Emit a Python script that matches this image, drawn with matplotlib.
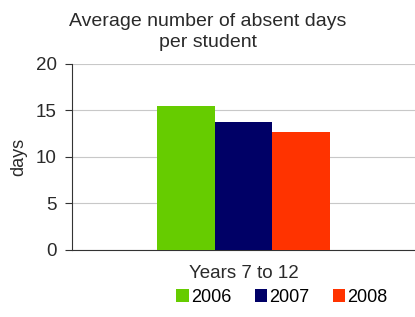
import numpy as np
import matplotlib.pyplot as plt

plt.rcParams['font.family'] = ['Liberation Sans', 'DejaVu Sans']

# data
category = 'Years 7 to 12'
years = ['2006', '2007', '2008']
absent_days = [15.5, 13.8, 12.7]
colors = ['#66cc00', '#000066', '#ff3300']

fig = plt.figure(figsize=(4.15, 3.17), dpi=100)
ax = fig.add_axes([0.1735, 0.2114, 0.8265, 0.5868])

width = 0.168
offsets = (np.arange(len(years)) - 1) * width
for off, val, col, yr in zip(offsets, absent_days, colors, years):
    ax.bar(off, val, width=width, color=col, label=yr, zorder=3)

ax.set_xlim(-0.5, 0.5)
ax.set_ylim(0, 20)
ax.set_yticks([0, 5, 10, 15, 20])
ax.set_xticks([])
ax.grid(axis='y', color='#c8c8c8', linewidth=0.8, zorder=0)
ax.spines['top'].set_visible(False)
ax.spines['right'].set_visible(False)
ax.spines['left'].set_color('#333333')
ax.spines['bottom'].set_color('#333333')
ax.tick_params(axis='y', length=5, direction='out', labelsize=13.5, colors='#333333', pad=6)
for lbl in ax.get_yticklabels():
    lbl.set_color('#2a2a2a')

ax.set_ylabel('days', fontsize=13, color='#2a2a2a', va='center')
ax.yaxis.set_label_coords(-0.155, 0.5)
ax.set_xlabel(category, fontsize=13.5, color='#2a2a2a', va='center')
ax.xaxis.set_label_coords(0.5, -0.124)

fig.text(0.5, 0.9, 'Average number of absent days\nper student', ha='center', va='center',
         fontsize=14, color='#2a2a2a', linespacing=1.3)

fig.legend(loc='center', bbox_to_anchor=(282 / 415, 1 - 297 / 317), ncol=3, frameon=False,
           fontsize=13, handlelength=0.7, handleheight=0.7, handletextpad=0.1,
           columnspacing=1.3, borderaxespad=0, borderpad=0)

fig.savefig('out.png', dpi=100)
